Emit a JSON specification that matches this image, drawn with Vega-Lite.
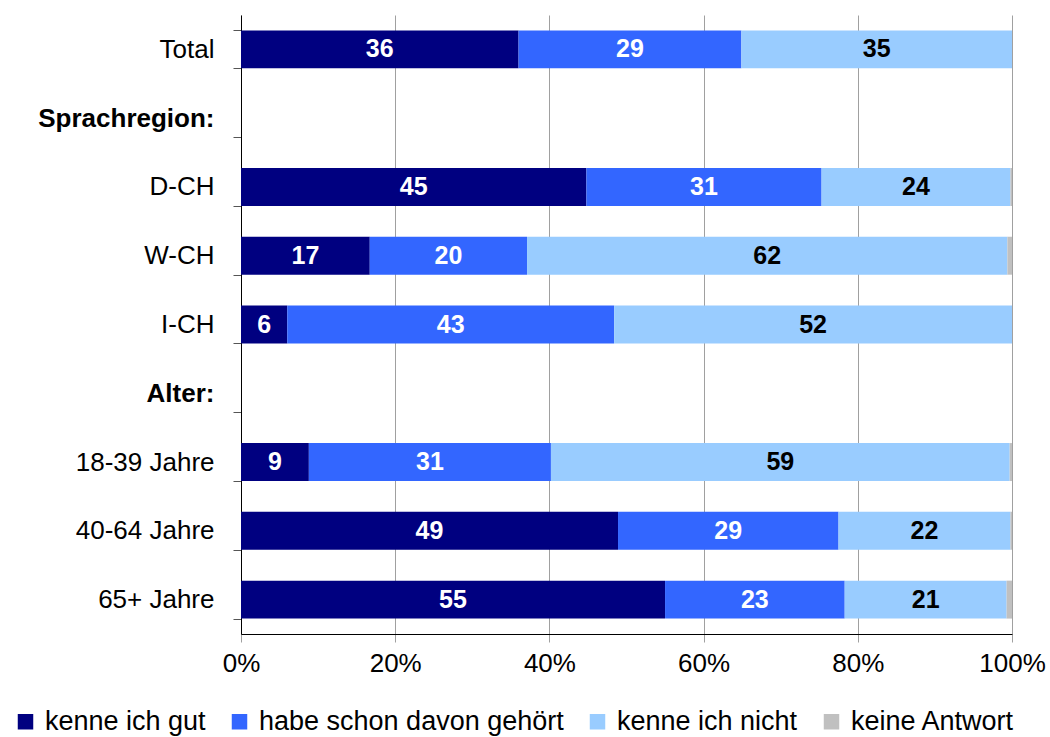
{
  "$schema": "https://vega.github.io/schema/vega-lite/v6.json",
  "width": 771,
  "height": 619,
  "autosize": {"type": "none"},
  "padding": {"left": 241, "top": 15, "right": 38, "bottom": 103},
  "config": {"font": "Liberation Sans", "view": {"stroke": null}},
  "data": {"values": [
    {"group": "Total", "answer": "kenne ich gut", "pct": 36.0, "label": "36"},
    {"group": "Total", "answer": "habe schon davon gehört", "pct": 28.9, "label": "29"},
    {"group": "Total", "answer": "kenne ich nicht", "pct": 35.1, "label": "35"},
    {"group": "Total", "answer": "keine Antwort", "pct": 0.0, "label": ""},
    {"group": "D-CH", "answer": "kenne ich gut", "pct": 44.8, "label": "45"},
    {"group": "D-CH", "answer": "habe schon davon gehört", "pct": 30.5, "label": "31"},
    {"group": "D-CH", "answer": "kenne ich nicht", "pct": 24.5, "label": "24"},
    {"group": "D-CH", "answer": "keine Antwort", "pct": 0.2, "label": ""},
    {"group": "W-CH", "answer": "kenne ich gut", "pct": 16.7, "label": "17"},
    {"group": "W-CH", "answer": "habe schon davon gehört", "pct": 20.4, "label": "20"},
    {"group": "W-CH", "answer": "kenne ich nicht", "pct": 62.3, "label": "62"},
    {"group": "W-CH", "answer": "keine Antwort", "pct": 0.6, "label": ""},
    {"group": "I-CH", "answer": "kenne ich gut", "pct": 6.0, "label": "6"},
    {"group": "I-CH", "answer": "habe schon davon gehört", "pct": 42.4, "label": "43"},
    {"group": "I-CH", "answer": "kenne ich nicht", "pct": 51.6, "label": "52"},
    {"group": "I-CH", "answer": "keine Antwort", "pct": 0.0, "label": ""},
    {"group": "18-39 Jahre", "answer": "kenne ich gut", "pct": 8.8, "label": "9"},
    {"group": "18-39 Jahre", "answer": "habe schon davon gehört", "pct": 31.4, "label": "31"},
    {"group": "18-39 Jahre", "answer": "kenne ich nicht", "pct": 59.5, "label": "59"},
    {"group": "18-39 Jahre", "answer": "keine Antwort", "pct": 0.3, "label": ""},
    {"group": "40-64 Jahre", "answer": "kenne ich gut", "pct": 48.9, "label": "49"},
    {"group": "40-64 Jahre", "answer": "habe schon davon gehört", "pct": 28.6, "label": "29"},
    {"group": "40-64 Jahre", "answer": "kenne ich nicht", "pct": 22.3, "label": "22"},
    {"group": "40-64 Jahre", "answer": "keine Antwort", "pct": 0.2, "label": ""},
    {"group": "65+ Jahre", "answer": "kenne ich gut", "pct": 55.0, "label": "55"},
    {"group": "65+ Jahre", "answer": "habe schon davon gehört", "pct": 23.3, "label": "23"},
    {"group": "65+ Jahre", "answer": "kenne ich nicht", "pct": 21.0, "label": "21"},
    {"group": "65+ Jahre", "answer": "keine Antwort", "pct": 0.7, "label": ""}
  ]},
  "transform": [
    {"calculate": "indexof(['kenne ich gut','habe schon davon gehört','kenne ich nicht','keine Antwort'], datum.answer)", "as": "order"},
    {"stack": "pct", "groupby": ["group"], "sort": [{"field": "order", "order": "ascending"}], "as": ["x0", "x1"]},
    {"calculate": "(datum.x0 + datum.x1) / 2", "as": "xm"}
  ],
  "encoding": {
    "y": {
      "field": "group",
      "type": "nominal",
      "scale": {
        "domain": ["Total", "Sprachregion:", "D-CH", "W-CH", "I-CH", "Alter:", "18-39 Jahre", "40-64 Jahre", "65+ Jahre"],
        "paddingInner": 0.448,
        "paddingOuter": 0.224
      },
      "axis": {
        "title": null,
        "tickBand": "extent",
        "tickSize": 8,
        "tickColor": "#555555",
        "domainColor": "#000000",
        "labelFontSize": 26,
        "labelColor": "#000000",
        "labelPadding": 19,
        "labelLimit": 0,
        "labelFontWeight": {"condition": {"test": "datum.value == 'Sprachregion:' || datum.value == 'Alter:'", "value": "bold"}, "value": "normal"}
      }
    }
  },
  "layer": [
    {
      "mark": {"type": "bar"},
      "encoding": {
        "x": {
          "field": "x0",
          "type": "quantitative",
          "scale": {"domain": [0, 100], "nice": false},
          "axis": {
            "title": null,
            "values": [0, 20, 40, 60, 80, 100],
            "labelExpr": "datum.value + '%'",
            "grid": true,
            "gridColor": "#a0a0a0",
            "gridWidth": 1,
            "domainColor": "#000000",
            "tickColor": "#a0a0a0",
            "tickSize": 8,
            "labelFontSize": 26,
            "labelColor": "#000000",
            "labelPadding": 8,
            "labelFlush": false,
            "labelOverlap": false
          }
        },
        "x2": {"field": "x1"},
        "color": {
          "field": "answer",
          "type": "nominal",
          "scale": {
            "domain": ["kenne ich gut", "habe schon davon gehört", "kenne ich nicht", "keine Antwort"],
            "range": ["#000080", "#3366FF", "#99CCFF", "#C0C0C0"]
          },
          "legend": {
            "title": null,
            "orient": "none",
            "legendX": -229,
            "legendY": 693,
            "direction": "horizontal",
            "columns": 4,
            "columnPadding": 20,
            "padding": 0,
            "symbolType": "square",
            "symbolSize": 240,
            "symbolStrokeWidth": 0,
            "symbolOpacity": 1,
            "labelFontSize": 27,
            "labelColor": "#000000",
            "labelOffset": 6,
            "labelLimit": 0
          }
        }
      }
    },
    {
      "mark": {"type": "text", "fontWeight": "bold", "fontSize": 25, "baseline": "middle", "align": "center"},
      "encoding": {
        "x": {"field": "xm", "type": "quantitative"},
        "text": {"field": "label"},
        "color": {"condition": {"test": "datum.answer == 'kenne ich nicht'", "value": "#000000"}, "value": "#ffffff"}
      }
    }
  ]
}
